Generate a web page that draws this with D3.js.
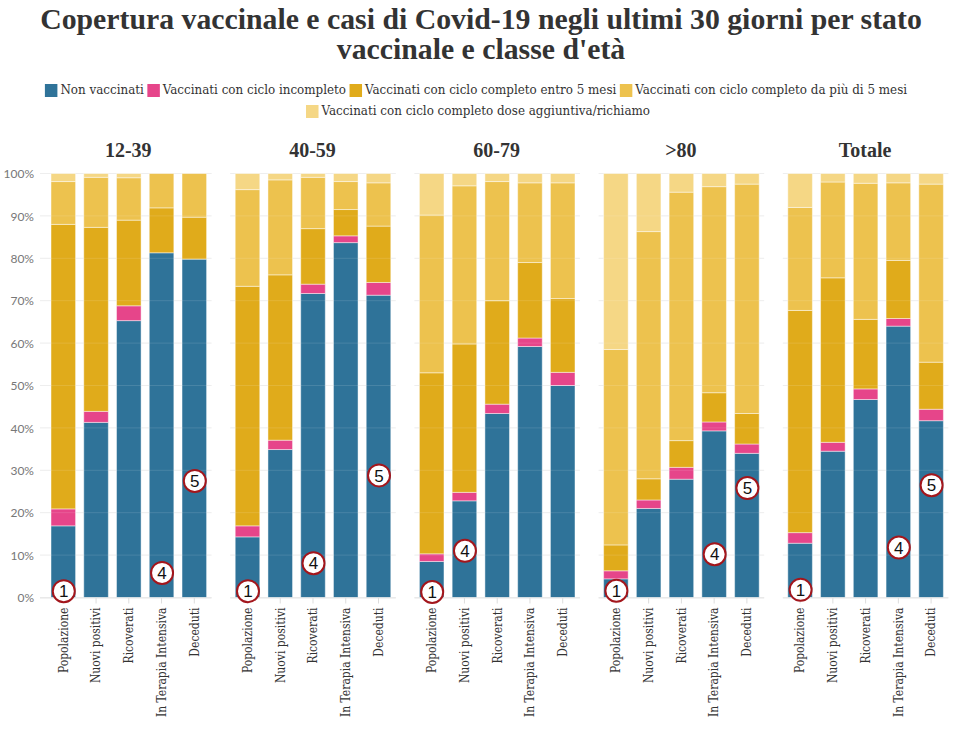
<!DOCTYPE html>
<html>
<head>
<meta charset="utf-8">
<script src="https://cdn.jsdelivr.net/npm/d3@7"></script>
<style>
  html, body { margin: 0; padding: 0; background: #fff; }
  svg { display: block; }
</style>
</head>
<body>
<svg id="chart" width="970" height="734"></svg>
<script>
// ---------------- DATA ----------------
const titleLines = ["Copertura vaccinale e casi di Covid-19 negli ultimi 30 giorni per stato", "vaccinale e classe d'età"];
const panels = ["12-39", "40-59", "60-79", ">80", "Totale"];
const categories = ["Popolazione", "Nuovi positivi", "Ricoverati", "In Terapia Intensiva", "Deceduti"];
const seriesNames = [
  "Non vaccinati",
  "Vaccinati con ciclo incompleto",
  "Vaccinati con ciclo completo entro 5 mesi",
  "Vaccinati con ciclo completo da più di 5 mesi",
  "Vaccinati con ciclo completo dose aggiuntiva/richiamo"
];
// values in %, one row per panel, one column per category
const nonVaccinati = [
  [16.9, 41.3, 65.3, 81.3, 79.8],
  [14.3, 34.9, 71.7, 83.7, 71.3],
  [8.5, 22.8, 43.4, 59.2, 50.0],
  [4.4, 21.0, 27.9, 39.3, 34.0],
  [12.8, 34.5, 46.7, 64.0, 41.7]
];
const cicloIncompleto = [
  [4.0, 2.6, 3.5, 0.0, 0.0],
  [2.6, 2.2, 2.2, 1.6, 3.0],
  [1.8, 2.0, 2.2, 2.0, 3.1],
  [1.9, 2.0, 2.8, 2.1, 2.2],
  [2.5, 2.1, 2.5, 1.8, 2.7]
];
const entro5Mesi = [
  [67.1, 43.4, 20.2, 10.6, 9.9],
  [56.5, 39.0, 13.1, 6.2, 13.3],
  [42.7, 35.0, 24.4, 17.8, 17.4],
  [6.1, 5.0, 6.3, 6.9, 7.2],
  [52.4, 38.8, 16.4, 13.7, 11.1]
];
const oltre5Mesi = [
  [10.1, 11.8, 10.0, 8.1, 10.3],
  [22.8, 22.4, 12.1, 6.6, 10.2],
  [37.2, 37.3, 28.1, 18.8, 27.3],
  [46.1, 58.3, 58.6, 48.6, 54.1],
  [24.3, 22.6, 32.1, 18.3, 42.0]
];
const doseAggiuntiva = [
  [1.9, 0.9, 1.0, 0.0, 0.0],
  [3.8, 1.5, 0.9, 1.9, 2.2],
  [9.8, 2.9, 1.9, 2.2, 2.2],
  [41.5, 13.7, 4.4, 3.1, 2.5],
  [8.0, 2.0, 2.3, 2.2, 2.5]
];
const yTicks = [0, 10, 20, 30, 40, 50, 60, 70, 80, 90, 100];
// numbered markers: panel index, category, value (%) of circle centre, label
const markerPanel = [0, 0, 0, 1, 1, 1, 2, 2, 3, 3, 3, 4, 4, 4];
const markerCategory = ["Popolazione", "In Terapia Intensiva", "Deceduti",
  "Popolazione", "Ricoverati", "Deceduti",
  "Popolazione", "Nuovi positivi",
  "Popolazione", "In Terapia Intensiva", "Deceduti",
  "Popolazione", "In Terapia Intensiva", "Deceduti"];
const markerValue = [1.5, 5.8, 27.5, 1.5, 8.1, 28.8, 1.3, 11.0, 1.6, 10.2, 25.8, 1.8, 11.8, 26.5];
const markerLabel = ["1", "4", "5", "1", "4", "5", "1", "4", "1", "4", "5", "1", "4", "5"];

// ---------------- STYLE ----------------
const palette = ["#2f7399", "#e6458a", "#e0ab1b", "#edc24e", "#f5d785"];
const serifTitle = "'Liberation Serif', 'Times New Roman', serif";
const condSerif = "'DejaVu Serif Condensed', 'DejaVu Serif', serif";

const svg = d3.select("#chart");
const W = 970, H = 734;

// ---------------- TITLE ----------------
const title = svg.append("g");
const tl = titleLines.map((t, i) => title.append("text")
  .attr("x", W / 2 - 4).attr("y", i === 0 ? 29 : 59)
  .attr("text-anchor", "middle")
  .style("font-family", serifTitle).style("font-weight", "bold")
  .style("font-size", "30px").style("fill", "#333")
  .text(t));
{
  const w = tl[0].node().getComputedTextLength();
  const fs = 30 * 882 / w;
  tl.forEach(t => t.style("font-size", fs + "px"));
}

// ---------------- LEGEND ----------------
const legend = svg.append("g");
function buildLegendRow(items, y, fs) {
  const g = legend.append("g");
  let x = 0;
  items.forEach(i => {
    g.append("rect").attr("x", x).attr("y", y - 10).attr("width", 12.5).attr("height", 13)
      .attr("fill", palette[i]);
    const t = g.append("text").attr("x", x + 15.5).attr("y", y)
      .style("font-family", condSerif).style("font-size", fs + "px").style("fill", "#333")
      .text(seriesNames[i]);
    x += 15.5 + t.node().getComputedTextLength() + 3.5;
  });
  return { g, width: x - 3.5 };
}
{
  let r1 = buildLegendRow([0, 1, 2, 3], 94, 13);
  const fs = 13 * (863 - 4 * 19) / (r1.width - 4 * 19);
  r1.g.remove();
  r1 = buildLegendRow([0, 1, 2, 3], 94, fs);
  r1.g.attr("transform", `translate(${476 - r1.width / 2},0)`);
  const r2 = buildLegendRow([4], 115, fs);
  r2.g.attr("transform", `translate(${478 - r2.width / 2},0)`);
}

// ---------------- SCALES ----------------
const y = d3.scaleLinear().domain([0, 100]).range([597.5, 173.5]);
const xPanel = d3.scaleBand().domain(panels).range([36.7, 957.7]).padding(0);
const xCat = d3.scaleBand().domain(categories).range([0, xPanel.bandwidth()])
  .paddingInner(0.25).paddingOuter(0.437);

const seriesArrays = [nonVaccinati, cicloIncompleto, entro5Mesi, oltre5Mesi, doseAggiuntiva];
const stack = d3.stack().keys(seriesNames);

// y axis labels
const yAxis = d3.axisLeft(y).tickValues(yTicks).tickFormat(d => d + "%").tickSize(0);
const ya = svg.append("g").attr("transform", "translate(37,0)").call(yAxis);
ya.select(".domain").remove();
ya.selectAll("text").style("font-family", "Lato, sans-serif").style("font-size", "12px")
  .style("fill", "#777").attr("dx", "0").attr("dy", "0.35em");

panels.forEach((p, pi) => {
  const g = svg.append("g").attr("transform", `translate(${xPanel(p)},0)`);
  const rows = categories.map((c, ci) => {
    const o = { category: c };
    seriesNames.forEach((s, si) => o[s] = seriesArrays[si][pi][ci]);
    return o;
  });
  const stacked = stack(rows);
  const gx0 = pi === 0 ? 40 - xPanel(p) : xCat(categories[0]) - 5;
  const gx1 = xCat(categories[4]) + xCat.bandwidth() + 5;

  // gridlines (under)
  g.append("g").selectAll("line").data(yTicks).join("line")
    .attr("x1", gx0).attr("x2", gx1).attr("y1", d => y(d)).attr("y2", d => y(d))
    .attr("stroke", "#ececec").attr("stroke-width", 1);

  // bars
  stacked.forEach((layer, si) => {
    g.append("g").selectAll("rect").data(layer).join("rect")
      .attr("x", d => xCat(d.data.category))
      .attr("width", xCat.bandwidth())
      .attr("y", d => y(d[1]))
      .attr("height", d => Math.max(0, y(d[0]) - y(d[1])))
      .attr("fill", palette[si])
      .attr("stroke", "rgba(255,255,255,0.45)").attr("stroke-width", 1);
  });

  // faint gridlines over bars
  g.append("g").selectAll("line").data(yTicks.slice(1)).join("line")
    .attr("x1", gx0).attr("x2", gx1).attr("y1", d => y(d)).attr("y2", d => y(d))
    .attr("stroke", "#ffffff").attr("stroke-opacity", 0.12).attr("stroke-width", 1);

  // panel title
  g.append("text").attr("x", xPanel.bandwidth() / 2 - 0.5 + (xCat(categories[0]) + xCat(categories[4]) + xCat.bandwidth()) / 2 - xPanel.bandwidth() / 2)
    .attr("y", 157).attr("text-anchor", "middle")
    .style("font-family", serifTitle).style("font-weight", "bold").style("font-size", "20px")
    .style("fill", "#333").text(p);

  // x axis
  const xa = g.append("g").attr("transform", `translate(0,${y(0)})`)
    .call(d3.axisBottom(xCat).tickSize(6).tickSizeOuter(0));
  xa.select(".domain").attr("d", `M${gx0},0.5H${gx1}`).attr("stroke", "#e6e6e6");
  xa.selectAll(".tick line").attr("stroke", "#ddd");
  xa.selectAll("text")
    .attr("transform", "rotate(-90)")
    .attr("text-anchor", "end")
    .attr("x", -10).attr("y", 0).attr("dy", "0.36em")
    .style("font-family", condSerif).style("font-size", "12px").style("fill", "#333");

  // markers
  const ms = markerPanel.map((mp, i) => ({ mp, c: markerCategory[i], v: markerValue[i], l: markerLabel[i] }))
    .filter(d => d.mp === pi);
  const mg = g.append("g").selectAll("g").data(ms).join("g")
    .attr("transform", d => `translate(${xCat(d.c) + xCat.bandwidth() / 2 + 0.5},${y(d.v)})`);
  mg.append("circle").attr("r", 11).attr("fill", "#fff").attr("stroke", "#a3161c").attr("stroke-width", 2);
  mg.append("text").attr("text-anchor", "middle").attr("dy", "0.36em")
    .style("font-family", "'Liberation Sans', Arial, sans-serif").style("font-size", "17px")
    .style("fill", "#111").text(d => d.l);
});
</script>
</body>
</html>
